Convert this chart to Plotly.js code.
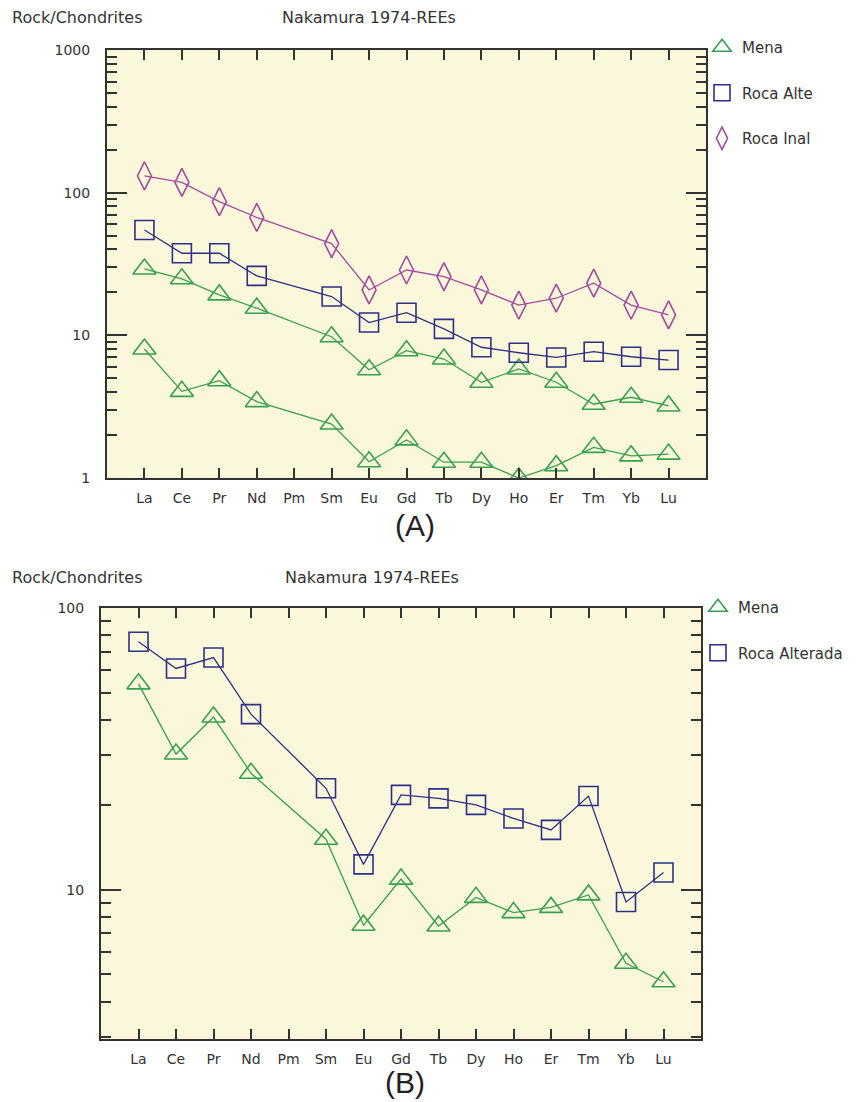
<!DOCTYPE html>
<html>
<head>
<meta charset="utf-8">
<script src="https://cdn.plot.ly/plotly-3.0.1.min.js"></script>
<style>
html,body{margin:0;padding:0;background:#fff;}
#chart{width:860px;height:1102px;}
</style>
</head>
<body>
<div id="chart"></div>
<script>
// ---- Data (chondrite-normalised REE, Nakamura 1974) ----
const elements = ['La','Ce','Pr','Nd','Pm','Sm','Eu','Gd','Tb','Dy','Ho','Er','Tm','Yb','Lu'];

// Panel A
const menaA1    = [29.2, 24.9, 19.2, 15.5, null, 9.78, 5.74, 7.8, 6.82, 4.69, 5.81, 4.69, 3.29, 3.68, 3.2];
const menaA2    = [8.02, 4.05, 4.81, 3.43, null, 2.39, 1.30, 1.85, 1.29, 1.29, 1.0, 1.22, 1.64, 1.43, 1.47];
const rocaAlteA = [54.7, 37.6, 37.6, 26.1, null, 18.7, 12.3, 14.4, 11.1, 8.25, 7.55, 7.0, 7.68, 7.08, 6.71];
const rocaInalA = [131, 118, 86.5, 67, null, 44, 20.8, 28.7, 25.8, 20.8, 16.3, 18.2, 23.2, 16.3, 13.9];

// Panel B
const menaB          = [53.8, 30.3, 41.0, 25.9, null, 15.1, 7.48, 10.9, 7.43, 9.39, 8.29, 8.65, 9.58, 5.48, 4.71];
const rocaAlteradaB  = [75.9, 61.0, 66.7, 42.0, null, 22.9, 12.3, 21.7, 21.1, 20.0, 17.9, 16.3, 21.5, 9.04, 11.5];

// Labels
const namesA = ['Mena', 'Roca Alte', 'Roca Inal'];
const namesB = ['Mena', 'Roca Alterada'];
const yTicksA = [1, 10, 100, 1000];
const yTicksB = [10, 100];

// ---- Styling ----
const W = 860, H = 1102;
const px = v => v / W;
const py = v => 1 - v / H;
const GREEN = '#38a052', NAVY = '#2d3088', PURPLE = '#a24b9e';
const BG = '#fbf7da';
const FONT = 'DejaVu Sans, Arial, sans-serif';

function series(y, name, color, symbol, size, xa, ya, legend) {
  return {
    x: elements, y: y, name: name, type: 'scatter', mode: 'lines+markers',
    xaxis: xa, yaxis: ya, connectgaps: true, showlegend: false, legend: legend,
    line: {color: color, width: 1.3},
    marker: {symbol: symbol, size: size, color: color, line: {color: color, width: 1.6}},
    hoverinfo: 'skip'
  };
}
function legendItem(name, color, symbol, size, legend, grp) {
  return {
    x: [null], y: [null], name: name, type: 'scatter', mode: 'markers',
    xaxis: legend === 'legend' ? 'x' : 'x2', yaxis: legend === 'legend' ? 'y' : 'y2',
    legend: legend, legendgroup: grp, showlegend: true,
    marker: {symbol: symbol, size: size, color: color, line: {color: color, width: 1.6}}
  };
}

const traces = [
  series(menaA1, namesA[0], GREEN, 'triangle-up-open', 20, 'x', 'y', 'legend'),
  series(menaA2, namesA[0], GREEN, 'triangle-up-open', 20, 'x', 'y', 'legend'),
  series(rocaAlteA, namesA[1], NAVY, 'square-open', 19, 'x', 'y', 'legend'),
  series(rocaInalA, namesA[2], PURPLE, 'diamond-tall-open', 20, 'x', 'y', 'legend'),
  series(menaB, namesB[0], GREEN, 'triangle-up-open', 20, 'x2', 'y2', 'legend2'),
  series(rocaAlteradaB, namesB[1], NAVY, 'square-open', 19, 'x2', 'y2', 'legend2'),
  legendItem(namesA[0], GREEN, 'triangle-up-open', 18, 'legend', 'a1'),
  legendItem(namesA[1], NAVY, 'square-open', 18, 'legend', 'a2'),
  legendItem(namesA[2], PURPLE, 'diamond-tall-open', 18, 'legend', 'a3'),
  legendItem(namesB[0], GREEN, 'triangle-up-open', 18, 'legend2', 'b1'),
  legendItem(namesB[1], NAVY, 'square-open', 18, 'legend2', 'b2')
];

const xBase = {
  type: 'category', categoryorder: 'array', categoryarray: elements,
  range: [-1, 15], showline: true, linecolor: '#333', linewidth: 2, mirror: 'ticks',
  ticks: 'inside', ticklen: 10, tickwidth: 2, tickcolor: '#333',
  showgrid: false, zeroline: false, fixedrange: true,
  tickfont: {family: FONT, size: 14, color: '#333'}, ticklabelstandoff: 6
};
const yBase = {
  type: 'log', showline: true, linecolor: '#333', linewidth: 2, mirror: 'ticks',
  ticks: 'inside', ticklen: 20, tickwidth: 2, tickcolor: '#333',
  showgrid: false, zeroline: false, fixedrange: true,
  tickfont: {family: FONT, size: 14, color: '#333'}, ticklabelstandoff: 12,
  minor: {ticks: 'inside', ticklen: 10, tickwidth: 2, tickcolor: '#333', dtick: 'D1', showgrid: false}
};

const hdr = {family: FONT, size: 16, color: '#333'};
const big = {family: 'Liberation Sans, Arial, sans-serif', size: 30, color: '#222'};

const layout = {
  width: W, height: H,
  margin: {l: 0, r: 0, t: 0, b: 0},
  paper_bgcolor: '#ffffff', plot_bgcolor: BG,
  showlegend: true, hovermode: false,
  xaxis: Object.assign({}, xBase, {domain: [px(107), px(706)], anchor: 'y'}),
  yaxis: Object.assign({}, yBase, {domain: [py(478), py(50)], anchor: 'x',
    range: [0, 3], tickvals: yTicksA, ticktext: yTicksA.map(String)}),
  xaxis2: Object.assign({}, xBase, {domain: [px(101), px(701)], anchor: 'y2'}),
  yaxis2: Object.assign({}, yBase, {domain: [py(1039), py(608)], anchor: 'x2',
    range: [Math.log10(2.95), 2], tickvals: yTicksB, ticktext: yTicksB.map(String)}),
  legend: {x: px(702), y: py(31), xanchor: 'left', yanchor: 'top', bgcolor: 'rgba(0,0,0,0)',
    font: {family: FONT, size: 15, color: '#333'}, tracegroupgap: 23, itemclick: false, itemdoubleclick: false},
  legend2: {x: px(698), y: py(591), xanchor: 'left', yanchor: 'top', bgcolor: 'rgba(0,0,0,0)',
    font: {family: FONT, size: 15, color: '#333'}, tracegroupgap: 23, itemclick: false, itemdoubleclick: false},
  annotations: [
    {text: 'Rock/Chondrites', x: px(10), y: py(18), xref: 'paper', yref: 'paper', xanchor: 'left', yanchor: 'middle', showarrow: false, font: hdr},
    {text: 'Nakamura 1974-REEs', x: px(280), y: py(18), xref: 'paper', yref: 'paper', xanchor: 'left', yanchor: 'middle', showarrow: false, font: hdr},
    {text: '(A)', x: px(415), y: py(525), xref: 'paper', yref: 'paper', xanchor: 'center', yanchor: 'middle', showarrow: false, font: big},
    {text: 'Rock/Chondrites', x: px(10), y: py(577), xref: 'paper', yref: 'paper', xanchor: 'left', yanchor: 'middle', showarrow: false, font: hdr},
    {text: 'Nakamura 1974-REEs', x: px(283), y: py(577), xref: 'paper', yref: 'paper', xanchor: 'left', yanchor: 'middle', showarrow: false, font: hdr},
    {text: '(B)', x: px(405), y: py(1082), xref: 'paper', yref: 'paper', xanchor: 'center', yanchor: 'middle', showarrow: false, font: big}
  ]
};

Plotly.newPlot('chart', traces, layout, {displayModeBar: false, staticPlot: true});
</script>
</body>
</html>
